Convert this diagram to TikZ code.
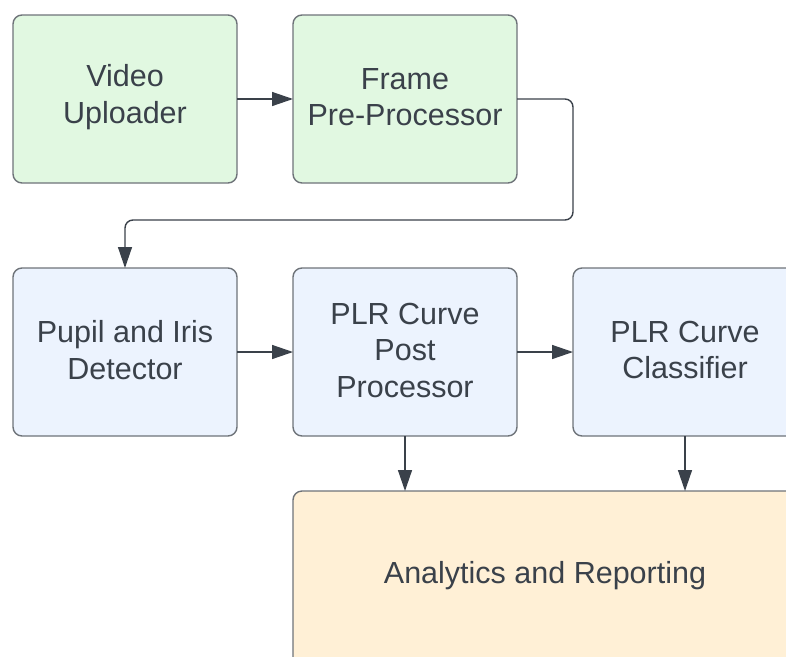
\documentclass[tikz,border=0pt]{standalone}
\usepackage{fontspec}
\setmainfont{Liberation Sans}
\usetikzlibrary{arrows.meta}
\definecolor{boxline}{HTML}{6E7379}
\definecolor{ink}{HTML}{3A414A}
\definecolor{greenfill}{HTML}{E1F8E1}
\definecolor{bluefill}{HTML}{ECF3FE}
\definecolor{yellowfill}{HTML}{FFF0D6}
\tikzset{
  blk/.style={draw=boxline, line width=1.4pt, rounded corners=9pt, align=center,
    text=ink, font=\fontsize{30.5}{36.5}\selectfont},
  conn/.style={draw=ink, line width=1.4pt, -{Triangle[length=21pt,width=14pt]}}
}
\begin{document}
\begin{tikzpicture}[x=1pt,y=-1pt]
\useasboundingbox (0,0) rectangle (786,656);
\clip (0,0) rectangle (786,656);
% boxes
\path[blk, fill=greenfill] (13,15) rectangle (237,183);
\node[blk, draw=none, inner sep=0] (A) at (125,97) {Video\\Uploader};
\path[blk, fill=greenfill] (293,15) rectangle (517,183);
\node[blk, draw=none, inner sep=0] (B) at (405,97) {Frame\\Pre-Processor};
\path[blk, fill=bluefill] (13,268) rectangle (237,436);
\node[blk, draw=none, inner sep=0] (C) at (125,350) {Pupil and Iris\\Detector};
\path[blk, fill=bluefill] (293,268) rectangle (517,436);
\node[blk, draw=none, inner sep=0] (D) at (405,350) {PLR Curve\\Post\\Processor};
\path[blk, fill=bluefill] (573,268) rectangle (800,436);
\node[blk, draw=none, inner sep=0] (E) at (685,350) {PLR Curve\\Classifier};
\path[blk, fill=yellowfill] (293,491) rectangle (810,700);
\node[blk, draw=none, inner sep=0] (F) at (545,576) {Analytics and Reporting};
% anchor coordinates on box edges
\coordinate (Ae) at (237,99);
\coordinate (Bw) at (293,99);
\coordinate (Be) at (517,99);
\coordinate (Cn) at (125,268);
\coordinate (Ce) at (237,352);
\coordinate (Dw) at (293,352);
\coordinate (De) at (517,352);
\coordinate (Ew) at (573,352);
\coordinate (Ds) at (405,436);
\coordinate (Es) at (685,436);
\coordinate (Fn1) at (405,491);
\coordinate (Fn2) at (685,491);
% connectors
\draw[conn] (Ae) -- (Bw);
\draw[conn, rounded corners=8pt] (Be) -- (573,99) -- (573,220) -- (125,220) -- (Cn);
\draw[conn] (Ce) -- (Dw);
\draw[conn] (De) -- (Ew);
\draw[conn] (Ds) -- (Fn1);
\draw[conn] (Es) -- (Fn2);
\end{tikzpicture}
\end{document}
